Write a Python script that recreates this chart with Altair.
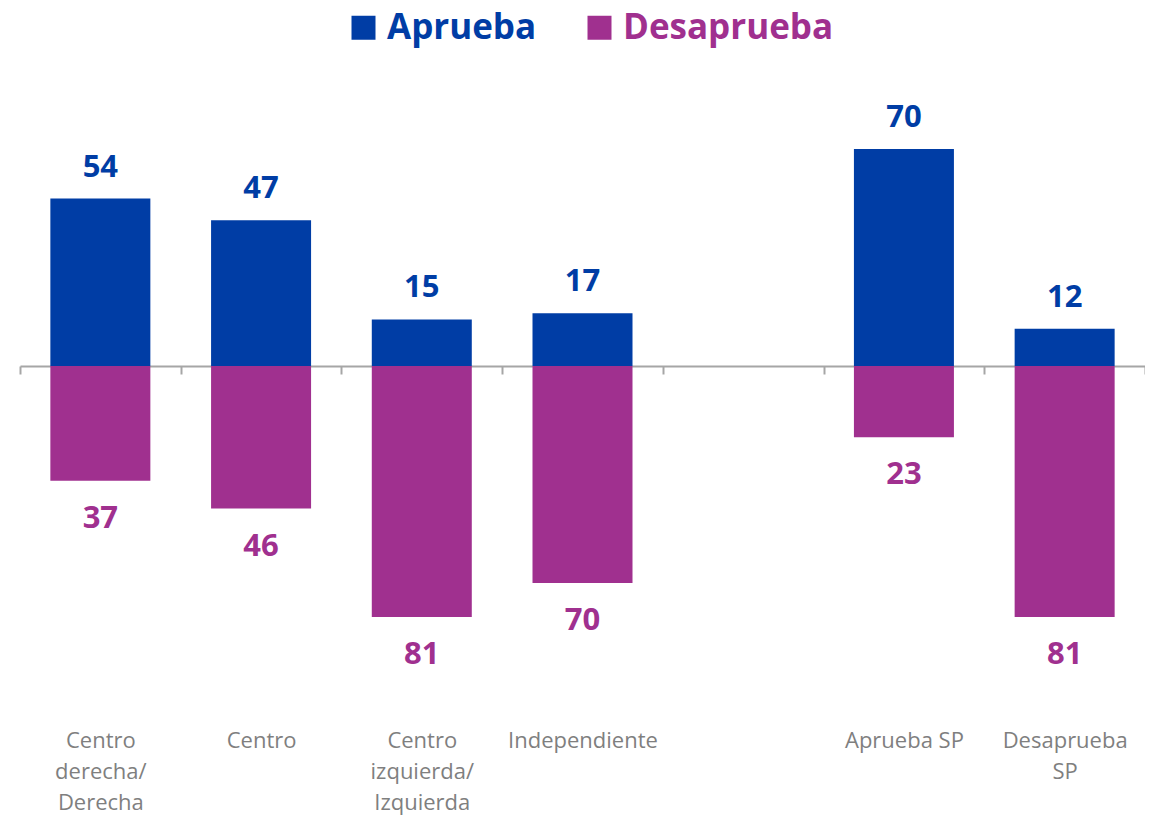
import altair as alt
import pandas as pd

categories = ["Centro|derecha/|Derecha", "Centro", "Centro|izquierda/|Izquierda",
              "Independiente", " ", "Aprueba SP", "Desaprueba|SP"]
aprueba = [54, 47, 15, 17, None, 70, 12]
desaprueba = [37, 46, 81, 70, None, 23, 81]
series = ["Aprueba", "Desaprueba"]
colors = ["#003DA5", "#A0308F"]

rows = []
for c, a, d in zip(categories, aprueba, desaprueba):
    if a is not None:
        rows.append({"cat": c, "serie": "Aprueba", "value": a, "label": str(a)})
    if d is not None:
        rows.append({"cat": c, "serie": "Desaprueba", "value": -d, "label": str(d)})
df = pd.DataFrame(rows)

FONT = "Open Sans"

x = alt.X("cat:N", sort=categories, scale=alt.Scale(domain=categories, paddingInner=0, paddingOuter=0),
          axis=alt.Axis(title=None, orient="bottom", offset=-264, tickBand="extent", tickSize=8,
                        tickColor="#A6A6A6", domainColor="#A6A6A6", domainWidth=2, tickWidth=2,
                        labelAngle=0, labelPadding=356, labelFont=FONT, labelFontSize=22,
                        labelColor="#7F7F7F", labelLineHeight=31, labelBaseline="top",
                        labelExpr="isString(datum.value) ? split(datum.value, '|') : ''",
                        labelOverlap=False, labelBound=False, labelFlush=False))
y = alt.Y("value:Q", scale=alt.Scale(domain=[-85.16, 97.74], nice=False, zero=False), axis=None)

color = alt.Color("serie:N", scale=alt.Scale(domain=series, range=colors),
                  legend=alt.Legend(title=None, orient="none", direction="horizontal",
                                    legendX=326, legendY=-53, symbolType="square", symbolSize=576,
                                    symbolStrokeWidth=0, symbolOpacity=1, labelFont=FONT,
                                    labelFontSize=35, labelFontWeight="bold", labelOffset=6,
                                    columnPadding=45, padding=0, labelLimit=400,
                                    labelColor=alt.ExprRef(expr="datum.value == 'Aprueba' ? '#003DA5' : '#A0308F'")))

base = alt.Chart(df)
bars = base.mark_bar(size=100).encode(x=x, y=y, color=color)
pos_text = base.transform_filter("datum.serie == 'Aprueba'").mark_text(
    font=FONT, fontSize=31, fontWeight="bold", baseline="alphabetic", dy=-22, color="#003DA5"
).encode(x=x, y=y, text="label:N")
neg_text = base.transform_filter("datum.serie == 'Desaprueba'").mark_text(
    font=FONT, fontSize=31, fontWeight="bold", baseline="alphabetic", dy=47, color="#A0308F"
).encode(x=x, y=y, text="label:N")

chart = alt.layer(bars, pos_text, neg_text).properties(
    width=1125, height=567,
    autosize=alt.AutoSizeParams(type="none"),
    padding={"left": 12, "top": 55, "right": 0, "bottom": 186},
).configure(background="white").configure_view(stroke=None)

chart.save("out.html", embed_options={"renderer": "svg", "actions": False})
